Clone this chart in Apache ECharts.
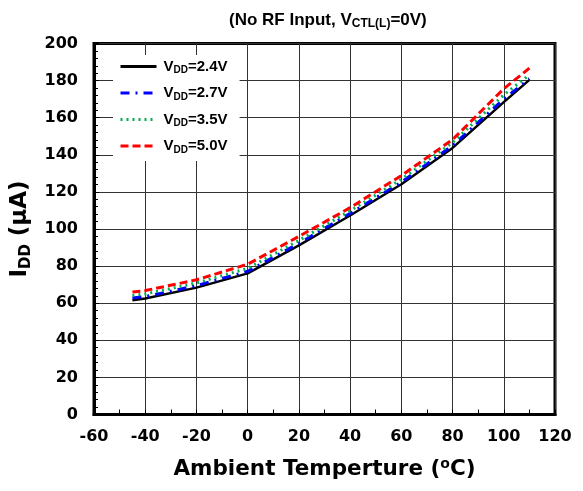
<!DOCTYPE html>
<html>
<head>
<meta charset="utf-8">
<script src="https://cdn.jsdelivr.net/npm/echarts@6/dist/echarts.min.js"></script>
<style>html,body{margin:0;padding:0;background:#fff;}#c{width:583px;height:491px;}</style>
</head>
<body>
<div id="c"></div>
<script>
const temps = [-45, -40, -20, 0, 20, 40, 60, 80, 100, 110];
const vdd24 = [61.6, 62.5, 68.4, 76.1, 91.2, 107.3, 124.1, 143.7, 168.4, 180.4];
const vdd27 = [62.8, 63.5, 69.5, 77.2, 92.3, 108.4, 125.2, 145.0, 170.0, 181.0];
const vdd35 = [64.2, 65.0, 70.9, 78.8, 93.8, 109.8, 126.8, 146.6, 172.3, 183.1];
const vdd50 = [66.0, 66.8, 72.6, 81.0, 96.0, 111.5, 128.8, 148.2, 175.6, 186.7];
const seriesNames = ['VDD=2.4V', 'VDD=2.7V', 'VDD=3.5V', 'VDD=5.0V'];
const xTicks = [-60, -40, -20, 0, 20, 40, 60, 80, 100, 120];
const yTicks = [0, 20, 40, 60, 80, 100, 120, 140, 160, 180, 200];

const FONT = '"Liberation Sans", Arial, sans-serif';
const WFONT = '"DejaVu Sans", sans-serif';
const pair = (ys) => temps.map((t, i) => [t, ys[i]]);

const styles = [
  { color: '#000000', width: 2.5, type: 'solid' },
  { color: '#0000ff', width: 3, type: [9, 6, 2, 6] },
  { color: '#00b050', width: 3, type: [2, 4] },
  { color: '#ff0000', width: 3, type: [8, 4] }
];
const values = [vdd24, vdd27, vdd35, vdd50];

const chart = echarts.init(document.getElementById('c'), null, { renderer: 'canvas' });
chart.setOption({
  animation: false,
  backgroundColor: '#fff',
  title: {
    text: '{b|(No RF Input, V}{s|CTL(L)}{b|=0V)}',
    left: 224,
    top: 5,
    textStyle: {
      rich: {
        b: { fontFamily: FONT, fontWeight: 'bold', fontSize: 17, color: '#000' },
        s: { fontFamily: FONT, fontWeight: 'bold', fontSize: 12, color: '#000', padding: [8, 0, 0, 0] }
      }
    }
  },
  grid: {
    left: 94, right: 28, top: 43.5, bottom: 76.5,
    show: true, borderColor: '#000', borderWidth: 3, backgroundColor: 'transparent'
  },
  legend: {
    orient: 'vertical',
    left: 113, top: 55,
    padding: [4, 12, 6, 6],
    backgroundColor: '#fff',
    itemWidth: 36, itemHeight: 14, itemGap: 10,
    itemStyle: { opacity: 0 },
    lineStyle: { width: 3 },
    data: seriesNames,
    formatter: (name) => '{v|V}{s|DD}{v|' + name.slice(3) + '}',
    textStyle: {
      padding: [0, 0, 0, 2],
      rich: {
        v: { fontFamily: FONT, fontWeight: 'bold', fontSize: 15, color: '#000' },
        s: { fontFamily: FONT, fontWeight: 'bold', fontSize: 10, color: '#000', padding: [8, 0, 0, 0] }
      }
    }
  },
  xAxis: {
    type: 'value', min: xTicks[0], max: xTicks[xTicks.length - 1], interval: 20,
    name: '{n|Ambient Temperture (}{sup|o}{n|C)}',
    nameLocation: 'middle', nameGap: 43,
    nameTextStyle: {
      rich: {
        n: { fontFamily: WFONT, fontWeight: 'bold', fontSize: 21.5, color: '#000' },
        sup: { fontFamily: WFONT, fontWeight: 'bold', fontSize: 14, color: '#000', padding: [0, 0, 9, 0] }
      }
    },
    axisLine: { show: true, onZero: false, lineStyle: { color: '#000', width: 3 } },
    axisTick: { show: true, inside: true, length: 5, lineStyle: { color: '#000', width: 1 } },
    minorTick: { show: true, splitNumber: 2, length: 5, lineStyle: { color: '#000', width: 1 } },
    splitLine: { show: true, lineStyle: { color: '#333', width: 1 } },
    axisLabel: { fontFamily: WFONT, fontWeight: 'bold', fontSize: 16, color: '#000', margin: 14 }
  },
  yAxis: {
    type: 'value', min: yTicks[0], max: yTicks[yTicks.length - 1], interval: 20,
    name: '{n|I}{s|DD}{n| (μA)}',
    nameLocation: 'middle', nameGap: 57, nameRotate: 90,
    nameTextStyle: {
      rich: {
        n: { fontFamily: WFONT, fontWeight: 'bold', fontSize: 23, color: '#000' },
        s: { fontFamily: WFONT, fontWeight: 'bold', fontSize: 15, color: '#000', padding: [12, 0, 0, 0] }
      }
    },
    axisLine: { show: true, onZero: false, lineStyle: { color: '#000', width: 3 } },
    axisTick: { show: true, inside: true, length: 5, lineStyle: { color: '#000', width: 1 } },
    minorTick: { show: true, splitNumber: 5, length: 4, lineStyle: { color: '#000', width: 1 } },
    splitLine: { show: true, lineStyle: { color: '#333', width: 1 } },
    axisLabel: { fontFamily: WFONT, fontWeight: 'bold', fontSize: 16, color: '#000', margin: 16 }
  },
  series: seriesNames.map((n, i) => ({
    name: n,
    type: 'line',
    data: pair(values[i]),
    symbol: 'none',
    smooth: false,
    z: 3 + i,
    itemStyle: { color: styles[i].color },
    lineStyle: { color: styles[i].color, width: styles[i].width, type: styles[i].type }
  }))
});
</script>
</body>
</html>
